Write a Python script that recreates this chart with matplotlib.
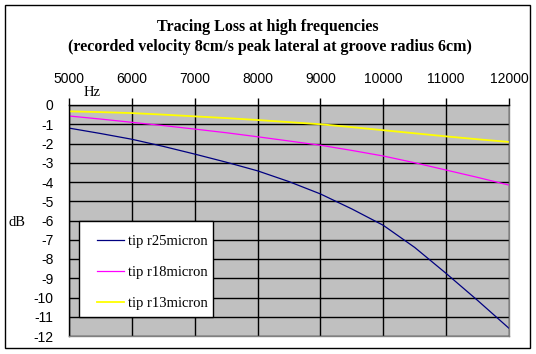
import matplotlib
matplotlib.use('Agg')
from matplotlib import pyplot as plt
from matplotlib.patches import Rectangle

freq = [5000, 5500, 6000, 6500, 7000, 7500, 8000, 8500, 9000, 9500, 10000, 10500, 11000, 11500, 12000]
r25 = [-1.2, -1.48, -1.78, -2.15, -2.55, -2.97, -3.42, -3.98, -4.62, -5.4, -6.25, -7.4, -8.75, -10.15, -11.6]
r18 = [-0.57, -0.73, -0.9, -1.07, -1.25, -1.44, -1.65, -1.87, -2.09, -2.36, -2.65, -3.0, -3.38, -3.76, -4.16]
r13 = [-0.33, -0.37, -0.42, -0.5, -0.59, -0.68, -0.78, -0.89, -1.0, -1.15, -1.31, -1.47, -1.63, -1.78, -1.92]

x_ticks = list(range(5000, 12001, 1000))
y_ticks = list(range(0, -13, -1))

serif = 'Liberation Serif'
sans = 'Liberation Sans'

fig = plt.figure(figsize=(5.36, 3.54), dpi=100)
fig.patches.append(Rectangle((5 / 536, 1 - 348 / 354), 525 / 536, 343 / 354,
                             transform=fig.transFigure, fill=False,
                             edgecolor='black', linewidth=1))

ax = fig.add_axes([69 / 536, 1 - 336 / 354, 440 / 536, 231 / 354])
ax.set_facecolor('#c0c0c0')

ax.plot(freq, r25, color='#000080', linewidth=0.9, label='tip r25micron')
ax.plot(freq, r18, color='#ff00ff', linewidth=0.9, label='tip r18micron')
ax.plot(freq, r13, color='#ffff00', linewidth=1.3, label='tip r13micron')

ax.set_xlim(5000, 12000)
ax.set_ylim(-12, 0)
ax.set_xticks(x_ticks)
ax.set_yticks(y_ticks)
ax.set_yticklabels([str(v) for v in y_ticks], family=sans, fontsize=10)
ax.set_xticklabels([str(v) for v in x_ticks], family=sans, fontsize=10)
ax.xaxis.tick_top()
ax.tick_params(axis='x', direction='out', length=5, width=1, pad=9, colors='black')
ax.tick_params(axis='y', length=0, pad=11)
ax.grid(True, color='black', linewidth=1)
ax.set_axisbelow(True)

for side in ('left', 'top'):
    ax.spines[side].set_color('black')
    ax.spines[side].set_linewidth(1)
for side in ('right', 'bottom'):
    ax.spines[side].set_color('#808080')
    ax.spines[side].set_linewidth(1)

fig.text(268 / 536, 1 - 27 / 354, 'Tracing Loss at high frequencies',
         ha='center', va='center', family=serif, fontsize=11.5, fontweight='bold')
fig.text(270 / 536, 1 - 47 / 354,
         '(recorded velocity 8cm/s peak lateral at groove radius 6cm)',
         ha='center', va='center', family=serif, fontsize=11.5, fontweight='bold')
fig.text(92 / 536, 1 - 93 / 354, 'Hz', ha='center', va='center', family=serif, fontsize=10.5)
fig.text(17 / 536, 1 - 222 / 354, 'dB', ha='center', va='center', family=serif, fontsize=10.5)

# legend box drawn separately so its size matches the original
ax.add_patch(Rectangle((79 / 536, 1 - 317 / 354), 134 / 536, 96 / 354,
                       transform=fig.transFigure, facecolor='white',
                       edgecolor='black', linewidth=1, zorder=5, clip_on=False))
leg = ax.legend(loc='upper left', bbox_to_anchor=(90 / 536, 1 - 228 / 354),
                bbox_transform=fig.transFigure, frameon=False,
                prop={'family': serif, 'size': 10.5}, handlelength=1.8,
                handletextpad=0.3, labelspacing=1.2, borderpad=0)
leg.set_zorder(6)

fig.savefig('out.png', dpi=100)
plt.close(fig)
